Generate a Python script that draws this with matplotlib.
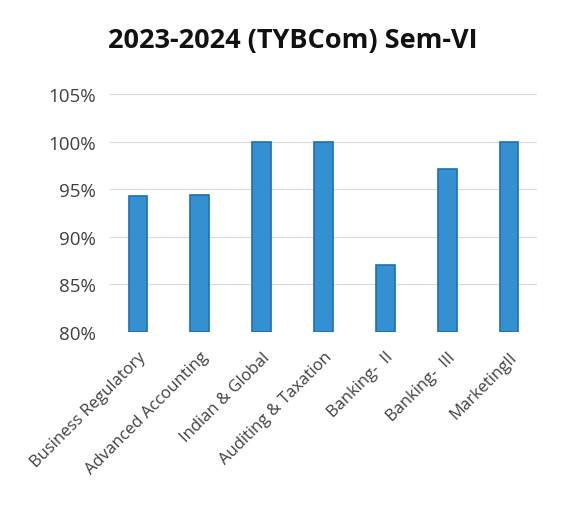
import matplotlib
matplotlib.use("Agg")
import matplotlib.pyplot as plt
from matplotlib.ticker import FuncFormatter

subjects = [
    "Business Regulatory",
    "Advanced Accounting",
    "Indian & Global",
    "Auditing & Taxation",
    "Banking-  II",
    "Banking-  III",
    "MarketingII",
]
pass_pct = [94.3, 94.4, 100.0, 100.0, 87.0, 97.1, 100.0]
y_ticks = [80, 85, 90, 95, 100, 105]

plt.rcParams["font.family"] = ["Open Sans", "DejaVu Sans"]

fig = plt.figure(figsize=(5.85, 5.06), dpi=100)
ax = fig.add_axes([0.188, 0.342, 0.73, 0.47])

x = range(len(subjects))
ax.bar(x, [v - 80 for v in pass_pct], bottom=80, width=0.3,
       color="#3590d2", edgecolor="#1f6fb3", linewidth=1.2, zorder=3)

ax.set_ylim(80, 105)
ax.set_yticks(y_ticks)
ax.yaxis.set_major_formatter(FuncFormatter(lambda v, _: f"{v:.0f}%"))
ax.set_xlim(-0.45, len(subjects) - 0.55)
ax.set_xticks(list(x))
ax.set_xticklabels(subjects, rotation=45, ha="right", rotation_mode="anchor")

ax.grid(axis="y", color="#d9d9d9", linewidth=0.8, zorder=0)
for s in ax.spines.values():
    s.set_visible(False)
ax.tick_params(length=0, colors="#404040")
ax.tick_params(axis="y", labelsize=13.5, pad=10)
ax.tick_params(axis="x", labelsize=12, pad=12)

fig.suptitle("2023-2024 (TYBCom) Sem-VI", fontsize=19.5, fontweight="bold",
             y=0.945, color="#111111")

fig.savefig("out.png", dpi=100)
